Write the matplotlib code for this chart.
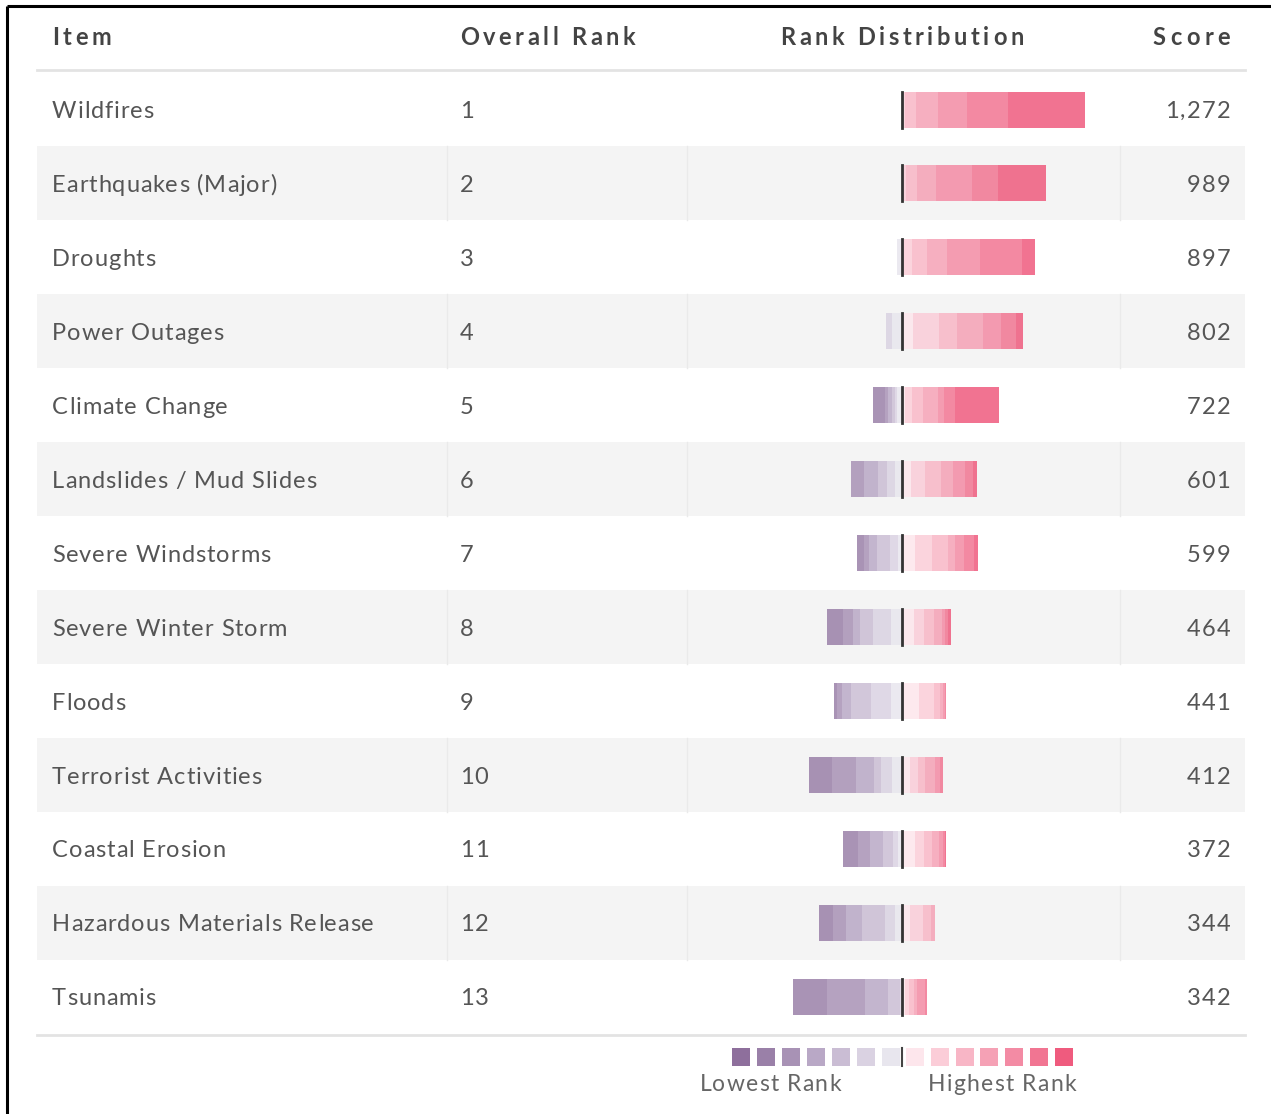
import numpy as np
import matplotlib.pyplot as plt
from matplotlib.patches import Rectangle
from matplotlib.font_manager import FontProperties

plt.rcParams['font.family'] = ['Lato', 'DejaVu Sans']

# ---- data ---------------------------------------------------------------
items = [
    'Wildfires', 'Earthquakes (Major)', 'Droughts', 'Power Outages',
    'Climate Change', 'Landslides / Mud Slides', 'Severe Windstorms',
    'Severe Winter Storm', 'Floods', 'Terrorist Activities',
    'Coastal Erosion', 'Hazardous Materials Release', 'Tsunamis',
]
overall_rank = [1, 2, 3, 4, 5, 6, 7, 8, 9, 10, 11, 12, 13]
scores = [1272, 989, 897, 802, 722, 601, 599, 464, 441, 412, 372, 344, 342]

# responses in the seven lowest rank levels (lowest first)
low_counts = [
    [0, 0, 0, 0, 0, 0, 0],
    [0, 0, 0, 0, 0, 0, 0],
    [0, 0, 0, 0, 0, 0, 5],
    [0, 0, 0, 0, 0, 6, 10],
    [0, 12, 3, 4, 3, 2, 5],
    [0, 0, 13, 14, 9, 8, 7],
    [0, 7, 5, 8, 13, 8, 4],
    [0, 16, 10, 7, 13, 18, 11],
    [0, 3, 5, 9, 20, 20, 11],
    [0, 23, 24, 18, 7, 11, 10],
    [0, 15, 12, 13, 10, 5, 4],
    [0, 14, 13, 16, 23, 10, 7],
    [0, 34, 38, 23, 12, 2, 0],
]
# responses in the seven highest rank levels (closest to the middle first,
# highest rank last)
high_counts = [
    [1, 2, 11, 22, 29, 41, 77],
    [1, 3, 11, 19, 36, 26, 48],
    [1, 9, 15, 20, 33, 42, 13],
    [11, 26, 18, 26, 18, 15, 7],
    [3, 7, 11, 15, 6, 11, 44],
    [9, 14, 16, 12, 12, 8, 4],
    [13, 17, 16, 7, 9, 10, 4],
    [12, 10, 10, 8, 3, 3, 3],
    [17, 15, 6, 3, 2, 1, 0],
    [8, 8, 7, 10, 5, 3, 0],
    [13, 9, 8, 7, 4, 2, 1],
    [8, 13, 8, 4, 0, 0, 0],
    [3, 4, 5, 3, 8, 2, 0],
]

purple_colors = ['#8e6f9c', '#9a80a8', '#a892b5', '#b9a8c6', '#cabdd4', '#dad2e2', '#e8e6ee']
pink_colors = ['#fde6ec', '#fbcdd8', '#f8b6c6', '#f5a1b5', '#f38ba4', '#f17592', '#ef5b7e']

# ---- layout --------------------------------------------------------------
W, H = 1271, 1114
fig = plt.figure(figsize=(W / 100, H / 100), dpi=100)
ax = fig.add_axes([0, 0, 1, 1])
ax.set_xlim(0, W)
ax.set_ylim(H, 0)
ax.axis('off')
renderer = fig.canvas.get_renderer()

table_left, table_right = 37, 1245
col_item, col_rank, col_score = 52, 460, 1230
mid = 902          # zero line of the rank distribution
row_h = 73.95
row_y = 109.5 + row_h * np.arange(len(items))
bar_h = 36
text_c = '#555555'
head_c = '#444444'


def text_width(s, fp):
    w, _, _ = renderer.get_text_width_height_descent(s, fp, ismath=False)
    return w


def spaced_text(x, y, s, size, color, spacing, ha='left', weight='normal'):
    """Draw s with extra letter spacing; y is the vertical centre of the capitals."""
    fp = FontProperties(family=['Lato', 'DejaVu Sans'], size=size, weight=weight)
    ref = text_width('x', fp)
    offs = [0] + [text_width(s[:k] + 'x', fp) - ref for k in range(1, len(s))]
    total = text_width(s, fp) + spacing * (len(s) - 1)
    if ha == 'right':
        x0 = x - total
    elif ha == 'center':
        x0 = x - total / 2
    else:
        x0 = x
    base = y + 0.717 * size * 100 / 72 / 2
    for k, ch in enumerate(s):
        if ch != ' ':
            ax.text(x0 + offs[k] + k * spacing, base, ch, fontproperties=fp,
                    color=color, va='baseline', ha='left')


# frame of the screenshot
ax.plot([7, 7], [6, H], color='black', lw=2.2, solid_capstyle='butt')
ax.plot([7, W], [6, 6], color='black', lw=2.2, solid_capstyle='butt')

# header
hy = 37
hs, hsp = 17, 3.6
spaced_text(col_item, hy, 'Item', hs, head_c, hsp, weight='bold')
spaced_text(col_rank, hy, 'Overall Rank', hs, head_c, hsp, weight='bold')
spaced_text(mid, hy, 'Rank Distribution', hs, head_c, hsp, ha='center', weight='bold')
spaced_text(col_score, hy, 'Score', hs, head_c, 4.5, ha='right', weight='bold')
ax.plot([table_left, table_right], [70, 70], color='#e3e3e3', lw=2)
ax.plot([table_left, table_right], [1035, 1035], color='#e3e3e3', lw=2)

bs, bsp = 17, 0.9
for i, name in enumerate(items):
    y = row_y[i]
    if i % 2 == 1:
        ax.add_patch(Rectangle((table_left, y - row_h / 2), table_right - table_left, row_h,
                               facecolor='#f4f4f4', edgecolor='none', zorder=0))
        for sx in [446.5, 686.5, 1119.5]:
            ax.plot([sx, sx], [y - row_h / 2, y + row_h / 2], color='#eaeaea', lw=1, zorder=1)

    spaced_text(col_item, y, name, bs, text_c, bsp)
    spaced_text(col_rank, y, str(overall_rank[i]), bs, text_c, bsp)
    spaced_text(col_score, y, f'{scores[i]:,}', bs, text_c, 1.2, ha='right')

    # low ranks stacked to the left, lightest next to the middle
    lows = np.array(low_counts[i])[::-1]
    lcols = purple_colors[::-1]
    lefts = mid - np.cumsum(lows)
    ax.barh([y] * 7, lows, left=lefts, height=bar_h, color=lcols, alpha=0.85,
            linewidth=0, zorder=2)
    # high ranks stacked to the right
    highs = np.array(high_counts[i])
    hlefts = mid + np.concatenate([[0], np.cumsum(highs)[:-1]])
    ax.barh([y] * 7, highs, left=hlefts, height=bar_h, color=pink_colors, alpha=0.85,
            linewidth=0, zorder=2)
    ax.plot([mid, mid], [y - bar_h / 2, y + bar_h / 2], color='#333333', lw=2, zorder=3)

# legend
sq, step, ly = 18, 25, 1057
for k, c in enumerate(purple_colors):
    ax.add_patch(Rectangle((731.5 + k * step, ly - sq / 2), sq, sq, facecolor=c, edgecolor='none'))
for k, c in enumerate(pink_colors):
    ax.add_patch(Rectangle((906 + k * 24.8, ly - sq / 2), sq, sq, facecolor=c, edgecolor='none'))
ax.plot([mid, mid], [ly - sq / 2, ly + sq / 2], color='#444444', lw=1.5)
spaced_text(770, 1083, 'Lowest Rank', 16.5, '#666666', 1.2, ha='center')
spaced_text(1002, 1083, 'Highest Rank', 16.5, '#666666', 1.2, ha='center')

fig.savefig('out.png', dpi=100, facecolor='white')
